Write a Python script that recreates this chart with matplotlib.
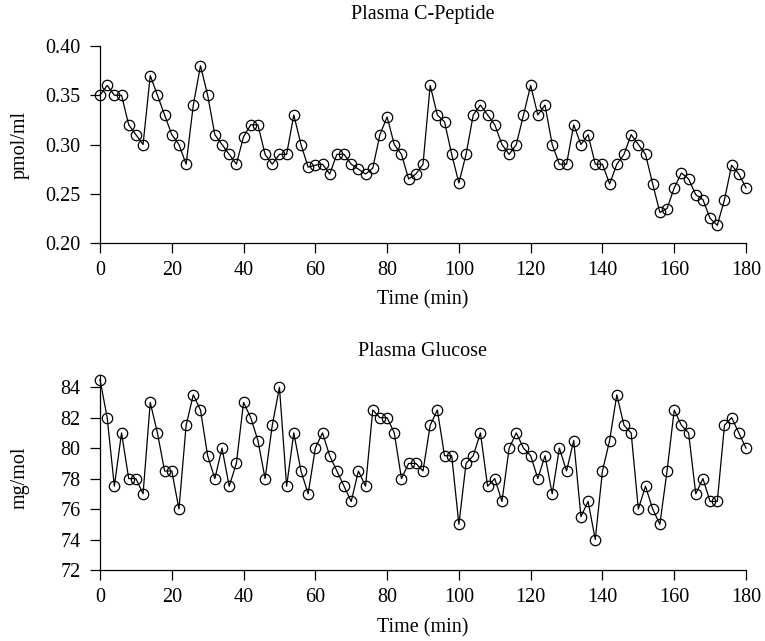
import matplotlib
matplotlib.use("Agg")
import matplotlib.pyplot as plt

# sampling times (min), every 2 minutes
time_min = list(range(0, 181, 2))

c_peptide = [
    0.350, 0.360, 0.350, 0.350, 0.320, 0.310, 0.300, 0.370, 0.350, 0.330,
    0.310, 0.300, 0.280, 0.340, 0.380, 0.350, 0.310, 0.300, 0.290, 0.280,
    0.308, 0.320, 0.320, 0.290, 0.280, 0.290, 0.290, 0.330, 0.300, 0.277,
    0.279, 0.280, 0.270, 0.290, 0.290, 0.280, 0.275, 0.270, 0.276, 0.310,
    0.328, 0.300, 0.290, 0.265, 0.270, 0.280, 0.360, 0.330, 0.323, 0.290,
    0.261, 0.290, 0.330, 0.340, 0.330, 0.320, 0.300, 0.290, 0.300, 0.330,
    0.360, 0.330, 0.340, 0.300, 0.280, 0.280, 0.320, 0.300, 0.310, 0.280,
    0.280, 0.260, 0.280, 0.290, 0.310, 0.300, 0.290, 0.260, 0.231, 0.235,
    0.256, 0.271, 0.265, 0.249, 0.244, 0.225, 0.218, 0.244, 0.279, 0.270,
    0.256,
]

glucose = [
    84.5, 82.0, 77.5, 81.0, 78.0, 78.0, 77.0, 83.0, 81.0, 78.5,
    78.5, 76.0, 81.5, 83.5, 82.5, 79.5, 78.0, 80.0, 77.5, 79.0,
    83.0, 82.0, 80.5, 78.0, 81.5, 84.0, 77.5, 81.0, 78.5, 77.0,
    80.0, 81.0, 79.5, 78.5, 77.5, 76.5, 78.5, 77.5, 82.5, 82.0,
    82.0, 81.0, 78.0, 79.0, 79.0, 78.5, 81.5, 82.5, 79.5, 79.5,
    75.0, 79.0, 79.5, 81.0, 77.5, 78.0, 76.5, 80.0, 81.0, 80.0,
    79.5, 78.0, 79.5, 77.0, 80.0, 78.5, 80.5, 75.5, 76.5, 74.0,
    78.5, 80.5, 83.5, 81.5, 81.0, 76.0, 77.5, 76.0, 75.0, 78.5,
    82.5, 81.5, 81.0, 77.0, 78.0, 76.5, 76.5, 81.5, 82.0, 81.0,
    80.0,
]

x_ticks = list(range(0, 181, 20))
cp_ticks = [0.20, 0.25, 0.30, 0.35, 0.40]
gl_ticks = [72, 74, 76, 78, 80, 82, 84]

plt.rcParams["font.family"] = ["Liberation Serif", "DejaVu Serif"]
plt.rcParams["font.size"] = 14.5

W, H = 765, 641
fig = plt.figure(figsize=(W / 100, H / 100), dpi=100)


def px_axes(left, top, right, bottom):
    return fig.add_axes([left / W, 1 - bottom / H, (right - left) / W, (bottom - top) / H])


def style(ax, yticks, ylim, fmt):
    ax.set_xlim(0, 180)
    ax.set_ylim(*ylim)
    ax.set_xticks(x_ticks)
    ax.set_yticks(yticks)
    ax.set_yticklabels([fmt.format(v) for v in yticks])
    for s in ("top", "right"):
        ax.spines[s].set_visible(False)
    for s in ("left", "bottom"):
        ax.spines[s].set_linewidth(0.9)
    ax.tick_params(direction="out", length=7, width=0.9)
    ax.tick_params(axis="y", pad=7)
    ax.tick_params(axis="x", pad=6)
    ax.patch.set_alpha(0)


line_kw = dict(color="black", lw=0.9, marker="o", markersize=7.5,
               markerfacecolor="none", markeredgecolor="black",
               markeredgewidth=0.9, clip_on=False)

# top: plasma C-peptide
ax1 = px_axes(100, 46, 746, 243)
ax1.plot(time_min, c_peptide, **line_kw)
style(ax1, cp_ticks, (0.20, 0.40), "{:.2f}")

# bottom: plasma glucose
ax2 = px_axes(100, 375, 746, 570)
ax2.plot(time_min, glucose, **line_kw)
style(ax2, gl_ticks, (72, 84.8), "{:d}")

cx = 423 / W
fig.text(cx, 1 - 15 / H, "Plasma C-Peptide", ha="center", va="center")
fig.text(cx, 1 - 300 / H, "Time (min)", ha="center", va="center")
fig.text(20 / W, 1 - 145 / H, "pmol/ml", rotation=90, ha="center", va="center")

fig.text(cx, 1 - 352 / H, "Plasma Glucose", ha="center", va="center")
fig.text(cx, 1 - 628 / H, "Time (min)", ha="center", va="center")
fig.text(20 / W, 1 - 478 / H, "mg/mol", rotation=90, ha="center", va="center")

fig.savefig("out.png", dpi=100)
